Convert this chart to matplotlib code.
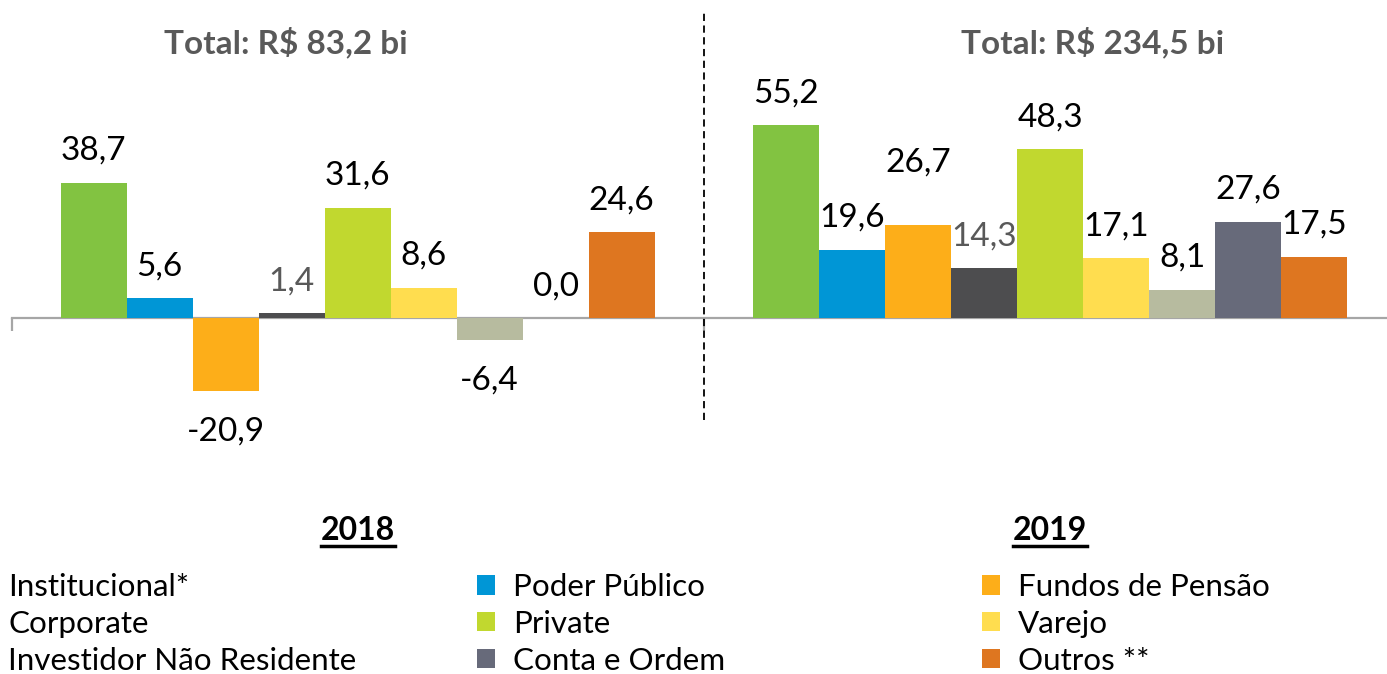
import matplotlib
matplotlib.use('Agg')
import matplotlib.pyplot as plt
from matplotlib.patches import Patch
from matplotlib.lines import Line2D
import numpy as np

series = ['Institucional*', 'Poder Público', 'Fundos de Pensão', 'Corporate', 'Private',
          'Varejo', 'Investidor Não Residente', 'Conta e Ordem', 'Outros **']
colors = ['#82C341', '#0096D6', '#FDAE19', '#4D4D4F', '#C1D82F',
          '#FFDD4F', '#B7BB9F', '#676A7A', '#DE7620']
years = ['2018', '2019']
totals = ['Total: R$ 83,2 bi', 'Total: R$ 234,5 bi']
values_2018 = [38.7, 5.6, -20.9, 1.4, 31.6, 8.6, -6.4, 0.0, 24.6]
values_2019 = [55.2, 19.6, 26.7, 14.3, 48.3, 17.1, 8.1, 27.6, 17.5]

FONT = 'Lato'
plt.rcParams['font.family'] = [FONT, 'DejaVu Sans']

W, H = 1387, 674
fig = plt.figure(figsize=(W / 100, H / 100), dpi=100)
ax = fig.add_axes([11.5 / W, 0, 1385 / W, 1])
ax.set_xlim(-0.5, 1.5)
ax.set_ylim(-102, 91.1)

x = np.arange(len(years))
bw = 66 / 692.5
offsets = (np.arange(len(series)) - 4) * bw
data = np.array([values_2018, values_2019])

for i, name in enumerate(series):
    vals = data[:, i]
    ax.bar(x + offsets[i], vals, width=bw, color=colors[i], zorder=2)
    for j, v in enumerate(vals):
        lab_color = '#595959' if name == 'Corporate' else 'black'
        if v >= 0:
            dy = 23
            if j == 1 and name == 'Fundos de Pensão':
                dy = 45
        else:
            dy = -29
        ax.annotate(f'{v:.1f}'.replace('.', ','), xy=(x[j] + offsets[i], v),
                    xytext=(0, dy), textcoords='offset points',
                    ha='center', va='center', fontsize=24, color=lab_color)

for s in ['left', 'top', 'right']:
    ax.spines[s].set_visible(False)
ax.spines['bottom'].set_position(('data', 0))
ax.spines['bottom'].set_color('#A6A6A6')
ax.spines['bottom'].set_linewidth(1.6)
ax.spines['bottom'].set_zorder(1)
ax.set_xticks([-0.5, 0.5, 1.5])
ax.set_xticklabels([])
ax.tick_params(axis='x', direction='out', length=9, width=1.6, color='#A6A6A6')
ax.set_yticks([])

ax.plot([0.5, 0.5], [-29.2, 88.3], ls=(0, (4, 2.5)), color='black', lw=1.3, zorder=3)

fig.text(286 / W, 1 - 42 / H, totals[0], ha='center', va='center',
         fontsize=24, fontweight='bold', color='#595959')
fig.text(1093 / W, 1 - 42 / H, totals[1], ha='center', va='center',
         fontsize=24, fontweight='bold', color='#595959')
year_texts = []
for xc, yr in zip([358, 1050], years):
    year_texts.append(fig.text(xc / W, 1 - 530 / H, yr, ha='center', va='center',
                               fontsize=23, fontweight='bold'))

cols = [[0, 3, 6], [1, 4, 7], [2, 5, 8]]
text_left = [8, 513, 1018]
LFS = 22.6
for c, idxs in enumerate(cols):
    handles = [Patch(facecolor=colors[k], edgecolor='none') for k in idxs]
    labels = [series[k] for k in idxs]
    fs_px = LFS * 100 / 72
    hl = 18 / fs_px
    tp = 18 / fs_px
    left_px = text_left[c] - (hl + tp) * fs_px
    fig.legend(handles, labels, loc='upper left',
               bbox_to_anchor=(left_px / W, 1 - 573 / H),
               frameon=False, fontsize=LFS, handlelength=hl, handleheight=hl,
               handletextpad=tp, labelspacing=0.28, borderpad=0, borderaxespad=0)

fig.canvas.draw()
r = fig.canvas.get_renderer()
for t in year_texts:
    bb = t.get_window_extent(r)
    yline = (H - 546) / H
    fig.add_artist(Line2D([bb.x0 / W, bb.x1 / W], [yline, yline], color='black', lw=2.5))

fig.savefig('out.png', dpi=100)
